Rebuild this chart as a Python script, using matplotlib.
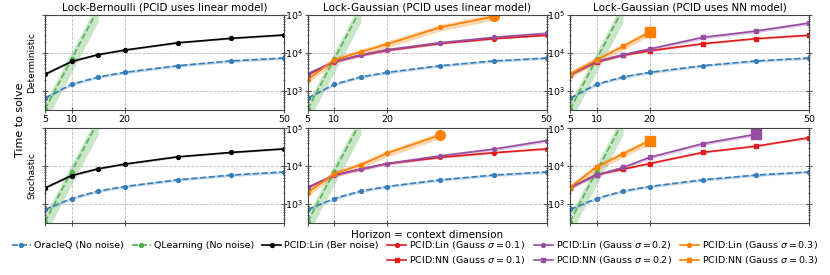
import numpy as np
import matplotlib
matplotlib.use('Agg')
import matplotlib.pyplot as plt
from matplotlib.lines import Line2D

# horizons
H = [5, 10, 15, 20, 30, 40, 50]
H_q = [5, 10, 15]

# OracleQ / QLearning (same in every panel)
oracle_det = [650, 1500, 2350, 3100, 4650, 6200, 7400]
oracle_sto = [720, 1400, 2200, 2900, 4350, 5800, 7000]
qlearn_det = [330, 6900, 145000]
qlearn_sto = [340, 7200, 150000]

# Lock-Bernoulli, PCID:Lin
ber_det = [2750, 6000, 9100, 12000, 18700, 24500, 30000]
ber_sto = [2650, 5650, 8500, 11300, 17600, 22900, 28500]

# Lock-Gaussian, PCID:Lin
lin01_det = [2700, 5900, 8700, 11800, 18000, 24000, 29500]
lin02_det = [2850, 6000, 8900, 12300, 18700, 25900, 33000]
lin03_det = [2000, 6600, 10700, 17300, 48000, 92000]
lin01_sto = [2700, 5800, 8300, 11700, 17000, 22500, 28500]
lin02_sto = [2750, 5800, 8300, 11700, 18600, 28000, 47000]
lin03_sto = [2000, 6300, 10800, 22000, 66000]

# Lock-Gaussian, PCID:NN
nn01_det = [2700, 5800, 8800, 11500, 17700, 24000, 29500]
nn02_det = [2700, 6000, 9100, 12800, 25900, 38000, 62000]
nn03_det = [2800, 6600, 15000, 36000]
nn01_sto = [2700, 6000, 8300, 11700, 23000, 33500, 56000]
nn02_sto = [2700, 5800, 9200, 17000, 39000, 69000]
nn03_sto = [2750, 9500, 21000, 47000]

# relative spread of the shaded bands
spread = {'oracle': 0.08, 'qlearn': 0.55, 'ber': 0.05, 'g01': 0.05, 'g02': 0.1, 'g03': 0.2}

blue = '#377eb8'
green = '#4daf4a'
red = '#e41a1c'
purple = '#984ea3'
orange = '#ff7f00'

plt.rcParams['font.family'] = 'DejaVu Sans'

fig = plt.figure(figsize=(8.3, 2.75), dpi=100)
lefts = [0.0542, 0.3707, 0.6867]
bottoms = [0.60, 0.189]
w, h = 0.288, 0.345

titles = ['Lock-Bernoulli (PCID uses linear model)',
          'Lock-Gaussian (PCID uses linear model)',
          'Lock-Gaussian (PCID uses NN model)']


def draw(ax, x, y, color, ls='-', marker='o', key='g01', end=False, alpha=1.0):
    x = np.array(x[:len(y)])
    y = np.array(y, dtype=float)
    s = spread[key]
    ax.fill_between(x, y * (1 - s), y * (1 + s), color=color, alpha=0.3, lw=0)
    ax.plot(x, y, color=color, ls=ls, marker=marker, ms=2.8, lw=1.2, alpha=alpha)
    if end:
        ax.plot(x[-1], y[-1], color=color, marker=marker, ms=7, ls='none')


axes = [[None] * 3 for _ in range(2)]
for r in range(2):
    for c in range(3):
        ax = fig.add_axes([lefts[c], bottoms[r], w, h])
        axes[r][c] = ax
        ax.set_yscale('log')
        ax.set_xlim(5, 50)
        ax.set_ylim(10 ** 2.5, 1e5)
        ax.set_xticks([5, 10, 20, 50])
        ax.grid(True, which='major', ls='--', color='#bbbbbb', lw=0.6)
        ax.tick_params(which='both', direction='inout', left=True, right=True,
                       labelsize=6.8, color='#555555', pad=1.5)
        ax.tick_params(which='major', length=4)
        ax.tick_params(which='minor', length=2)
        for sp in ax.spines.values():
            sp.set_color('#444444')
            sp.set_linewidth(0.8)
        if r == 1:
            ax.tick_params(labelbottom=False)
        if c == 0:
            ax.tick_params(labelleft=False)
        if r == 0:
            ax.set_title(titles[c], fontsize=7.5, pad=3)

        oracle = oracle_det if r == 0 else oracle_sto
        qlearn = qlearn_det if r == 0 else qlearn_sto
        draw(ax, H, oracle, blue, ls='--', key='oracle')
        draw(ax, H_q, qlearn, green, ls='--', key='qlearn', alpha=0.9)

det = [ber_det, lin01_det, lin02_det, lin03_det, nn01_det, nn02_det, nn03_det]
sto = [ber_sto, lin01_sto, lin02_sto, lin03_sto, nn01_sto, nn02_sto, nn03_sto]
for r, d in enumerate([det, sto]):
    draw(axes[r][0], H, d[0], 'black', key='ber')
    draw(axes[r][1], H, d[1], red, key='g01', end=len(d[1]) < 7)
    draw(axes[r][1], H, d[2], purple, key='g02', end=len(d[2]) < 7)
    draw(axes[r][1], H, d[3], orange, key='g03', end=len(d[3]) < 7)
    draw(axes[r][2], H, d[4], red, marker='s', key='g01', end=len(d[4]) < 7)
    draw(axes[r][2], H, d[5], purple, marker='s', key='g02', end=len(d[5]) < 7)
    draw(axes[r][2], H, d[6], orange, marker='s', key='g03', end=len(d[6]) < 7)

axes[0][0].set_ylabel('Deterministic', fontsize=6.5, labelpad=4)
axes[1][0].set_ylabel('Stochastic', fontsize=6.5, labelpad=4)
fig.text(0.024, 0.565, 'Time to solve', rotation=90, ha='center', va='center', fontsize=8)
axes[1][1].set_xlabel('Horizon = context dimension', fontsize=7.5, labelpad=3)


def hd(color, ls='-', marker='o'):
    return Line2D([], [], color=color, ls=ls, marker=marker, ms=2.8, lw=1.2)


blank = Line2D([], [], color='none')
handles = [hd(blue, '--'), blank,
           hd(green, '--'), blank,
           hd('black'), blank,
           hd(red), hd(red, marker='s'),
           hd(purple), hd(purple, marker='s'),
           hd(orange), hd(orange, marker='s')]
labels = ['OracleQ (No noise)', '',
          'QLearning (No noise)', '',
          'PCID:Lin (Ber noise)', '',
          r'PCID:Lin (Gauss $\sigma = 0.1$)', r'PCID:NN (Gauss $\sigma = 0.1$)',
          r'PCID:Lin (Gauss $\sigma = 0.2$)', r'PCID:NN (Gauss $\sigma = 0.2$)',
          r'PCID:Lin (Gauss $\sigma = 0.3$)', r'PCID:NN (Gauss $\sigma = 0.3$)']
fig.legend(handles, labels, loc='upper center', bbox_to_anchor=(0.5, 0.145), ncol=6,
           frameon=False, fontsize=6.8, handlelength=2.0, handletextpad=0.3,
           columnspacing=0.9, labelspacing=0.35, borderaxespad=0)

fig.savefig('out.png', dpi=100)
